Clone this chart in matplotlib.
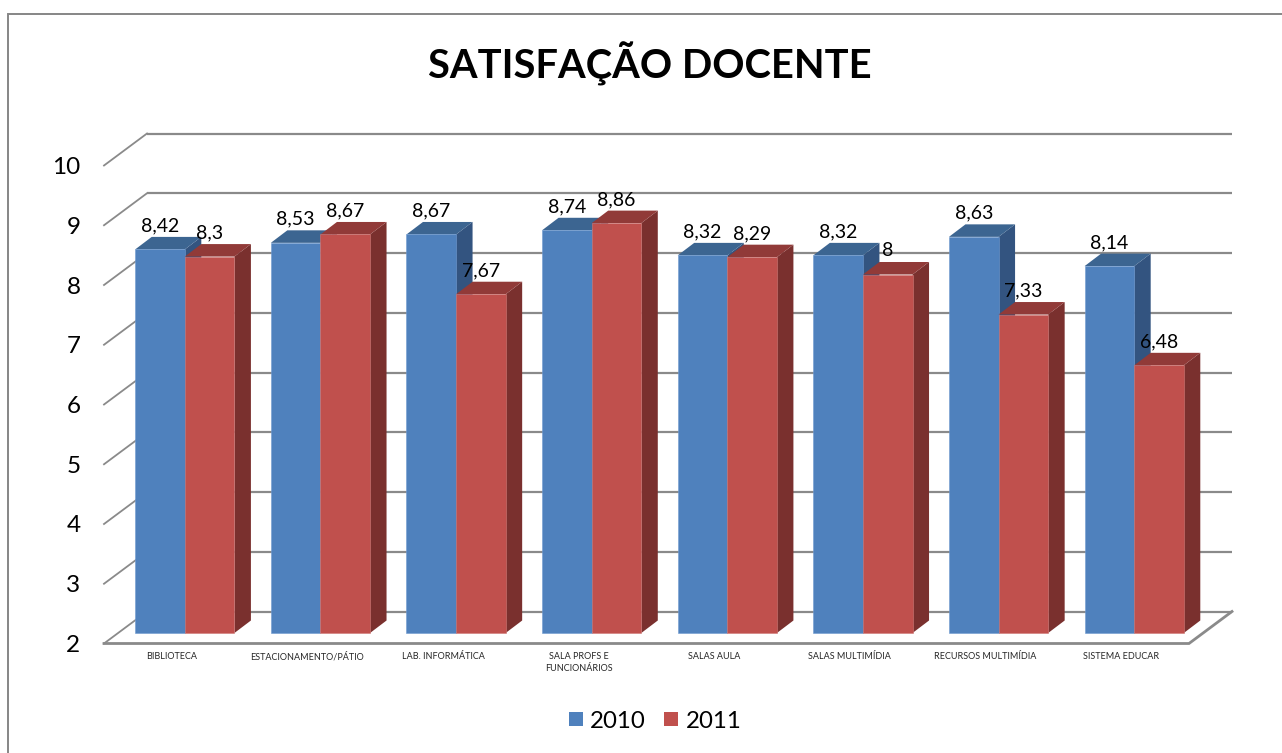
import matplotlib
matplotlib.use("Agg")
import matplotlib.pyplot as plt
from matplotlib.patches import Polygon, Patch
from matplotlib.lines import Line2D
from matplotlib.transforms import Affine2D

categories = ["BIBLIOTECA", "ESTACIONAMENTO/PÁTIO", "LAB. INFORMÁTICA",
              "SALA PROFS E\nFUNCIONÁRIOS", "SALAS AULA", "SALAS MULTIMÍDIA",
              "RECURSOS MULTIMÍDIA", "SISTEMA EDUCAR"]
values_2010 = [8.42, 8.53, 8.67, 8.74, 8.32, 8.32, 8.63, 8.14]
values_2011 = [8.3, 8.67, 7.67, 8.86, 8.29, 8, 7.33, 6.48]
yticks = [2, 3, 4, 5, 6, 7, 8, 9, 10]

W, H = 1282, 753
plt.rcParams['font.family'] = ['Lato', 'DejaVu Sans']
fig = plt.figure(figsize=(W / 100, H / 100), dpi=100)
L, R, T, B = 104, 1189, 165.5, 643.5
ax = fig.add_axes([L / W, 1 - B / H, (R - L) / W, (B - T) / H])
ax.set_xlim(0, len(categories))
ax.set_ylim(2, 10)
ax.patch.set_alpha(0)
for s in ax.spines.values():
    s.set_visible(False)

px_x = (R - L) / len(categories)
px_y = (B - T) / 8


def dx(px):
    return px / px_x


def dy(px):
    return px / px_y


# wall / floor
WX, WY = dx(43), dy(32)
GRID = "#8a8a8a"
for v in yticks:
    ax.plot([0 + WX, 8 + WX], [v + WY, v + WY], color=GRID, lw=1.6, zorder=1,
            clip_on=False, solid_capstyle="butt")
    ax.plot([0, WX], [v, v + WY], color=GRID, lw=1.3, zorder=1, clip_on=False)
ax.plot([0, 8, 8 + WX], [2, 2, 2 + WY], color=GRID, lw=2.0, zorder=1, clip_on=False,
        solid_joinstyle="miter")

# bars
OFFX, OFFY = 13.0, 10.5      # front plane of the bars, px above the floor edge
DEPX, DEPY = 16.5, 12.5      # bar depth, px
front = ax.transData + Affine2D().translate(OFFX, OFFY)
BW = 49.6 / px_x


def bar3d(x0, v, front_c, top_c, side_c, edge_c, z):
    x1 = x0 + BW
    ddx, ddy = dx(DEPX), dy(DEPY)
    side = Polygon([(x1, 2), (x1, v), (x1 + ddx, v + ddy), (x1 + ddx, 2 + ddy)],
                   closed=True, fc=side_c, ec="none", transform=front, zorder=z, clip_on=False)
    top = Polygon([(x0, v), (x1, v), (x1 + ddx, v + ddy), (x0 + ddx, v + ddy)],
                  closed=True, fc=top_c, ec="none", transform=front, zorder=z, clip_on=False)
    ax.add_patch(side)
    ax.add_patch(top)
    ax.bar(x0, v - 2, width=BW, bottom=2, align="edge", color=front_c, edgecolor=edge_c,
           linewidth=0.4, transform=front, zorder=z + 0.1, clip_on=False)


def label(v):
    return str(v).replace(".", ",")


z = 2
for i, (a, b) in enumerate(zip(values_2010, values_2011)):
    c = i + 0.5
    bar3d(c - BW, a, "#4F81BD", "#3C6591", "#335480", "#6F9AD0", z)
    bar3d(c, b, "#C0504D", "#913A38", "#7A302E", "#CF7A78", z + 1)
    z += 2
lift = front + Affine2D().translate(0, 23.5)
for i, (a, b) in enumerate(zip(values_2010, values_2011)):
    c = i + 0.5
    ax.text(c - BW / 2, a, label(a), transform=lift,
            ha="center", va="center", fontsize=14, color="black", zorder=40, clip_on=False)
    ax.text(c + BW / 2, b, label(b), transform=lift,
            ha="center", va="center", fontsize=14, color="black", zorder=40, clip_on=False)

ax.set_yticks(yticks)
ax.set_yticklabels([str(t) for t in yticks], fontsize=17.5, color="black")
ax.set_xticks([i + 0.5 for i in range(len(categories))])
ax.set_xticklabels(categories, fontsize=6.5, color="#262626", linespacing=1.4)
ax.tick_params(axis="y", length=0, pad=17)
ax.tick_params(axis="x", length=0, pad=6)

# outer frame, cropped by the image on the right and bottom
fig.add_artist(Line2D([8 / W, 8 / W, 1], [0, 1 - 13.5 / H, 1 - 13.5 / H], color="#868686",
                      lw=1.4, solid_joinstyle="miter"))

fig.text(649.5 / W, 1 - 64 / H, "SATISFAÇÃO DOCENTE", ha="center", va="center",
         fontsize=28.7, fontweight="bold", color="black")

fig.legend(handles=[Patch(fc="#4F81BD", label="2010"), Patch(fc="#C0504D", label="2011")],
           loc="center", bbox_to_anchor=(655 / W, 1 - 721 / H), ncol=2, frameon=False,
           fontsize=17.3, handlelength=0.58, handleheight=0.58, handletextpad=0.3, columnspacing=0.78)

fig.savefig("out.png", dpi=100)
